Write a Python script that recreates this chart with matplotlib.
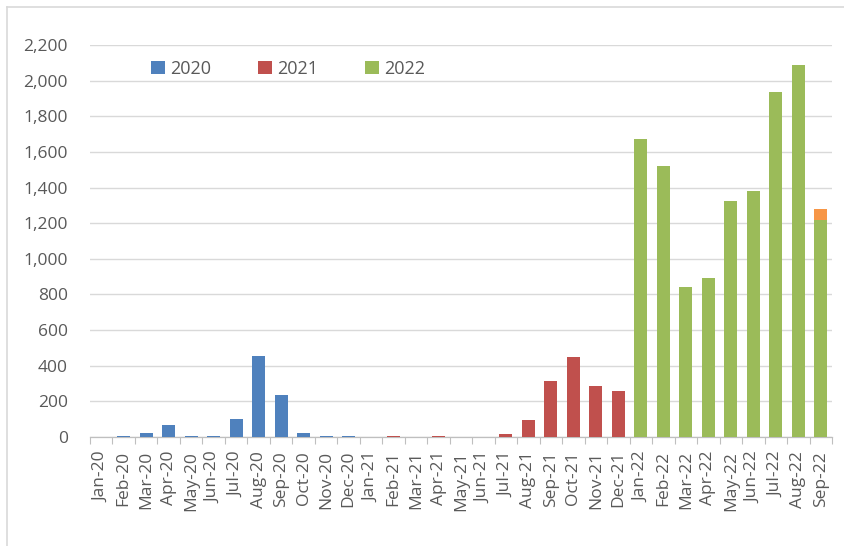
import matplotlib
matplotlib.use("Agg")
import matplotlib.pyplot as plt
from matplotlib.patches import Patch
from matplotlib.lines import Line2D
import numpy as np

months = ["Jan-20","Feb-20","Mar-20","Apr-20","May-20","Jun-20","Jul-20","Aug-20","Sep-20","Oct-20","Nov-20","Dec-20",
          "Jan-21","Feb-21","Mar-21","Apr-21","May-21","Jun-21","Jul-21","Aug-21","Sep-21","Oct-21","Nov-21","Dec-21",
          "Jan-22","Feb-22","Mar-22","Apr-22","May-22","Jun-22","Jul-22","Aug-22","Sep-22"]
vals_2020 = [0, 5, 20, 70, 5, 5, 100, 455, 235, 20, 5, 5]
vals_2021 = [0, 5, 0, 5, 0, 0, 15, 95, 315, 450, 285, 260]
vals_2022 = [1670, 1520, 840, 895, 1325, 1380, 1935, 2090, 1220]
extra_sep22 = 60
series_names = ["2020", "2021", "2022"]
colors = ["#4F81BD", "#C0504D", "#9BBB59"]
extra_color = "#F79646"

plt.rcParams['font.family'] = ['Open Sans', 'DejaVu Sans']

fig = plt.figure(figsize=(8.44, 5.46), dpi=100)
ax = fig.add_axes([90/844, 1-437/546, 742/844, (437-45)/546])

x = np.arange(len(months))
w = 0.58
x20 = x[:12]; x21 = x[12:24]; x22 = x[24:]
ax.bar(x20, vals_2020, width=w, color=colors[0], zorder=3)
ax.bar(x21, vals_2021, width=w, color=colors[1], zorder=3)
ax.bar(x22, vals_2022, width=w, color=colors[2], zorder=3)
ax.bar([x22[-1]], [extra_sep22], bottom=[vals_2022[-1]], width=w, color=extra_color, zorder=3)

ax.set_xlim(-0.5, len(months)-0.5)
ax.set_ylim(0, 2200)
yt = np.arange(0, 2201, 200)
ax.set_yticks(yt)
ax.set_yticklabels([f"{v:,}" for v in yt])
ax.yaxis.grid(True, color="#D9D9D9", lw=1.0, zorder=0)
ax.set_xticks(x)
ax.set_xticklabels(months, rotation=90)
ax.set_xticks(np.arange(-0.5, len(months), 1), minor=True)
ax.tick_params(axis='x', which='major', length=0, pad=10, labelsize=12.5, colors="#595959")
ax.tick_params(axis='x', which='minor', length=5, width=0.8, color="#BFBFBF", direction='out')
ax.tick_params(axis='y', length=0, pad=16, labelsize=12.5, colors="#595959")
for s in ["top", "right", "left"]:
    ax.spines[s].set_visible(False)
ax.spines["bottom"].set_color("#BFBFBF")
ax.spines["bottom"].set_linewidth(0.9)

handles = [Patch(facecolor=c, label=n) for c, n in zip(colors, series_names)]
leg = ax.legend(handles=handles, loc='upper left', bbox_to_anchor=(45/742, 1.003), ncol=3,
                frameon=False, fontsize=13, handlelength=0.75, handleheight=0.75,
                handletextpad=0.3, columnspacing=2.6, labelcolor="#595959")

fig.add_artist(Line2D([7/844, 7/844], [0, 1-7/546], color="#D9D9D9", lw=1.2, transform=fig.transFigure))
fig.add_artist(Line2D([7/844, 1], [1-7/546, 1-7/546], color="#D9D9D9", lw=1.2, transform=fig.transFigure))

fig.savefig("out.png", dpi=100)
